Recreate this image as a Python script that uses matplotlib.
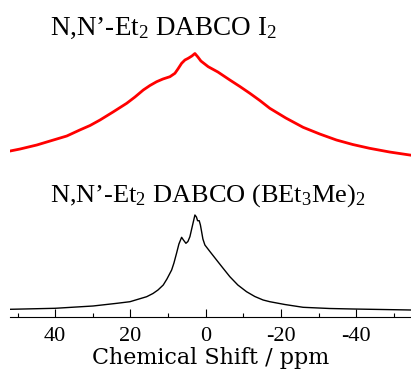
import matplotlib
matplotlib.use("Agg")
import matplotlib.pyplot as plt
from matplotlib.ticker import MultipleLocator

plt.rcParams['axes.unicode_minus'] = False
plt.rcParams['mathtext.fontset'] = 'custom'
plt.rcParams['mathtext.rm'] = 'Liberation Serif'
plt.rcParams['mathtext.it'] = 'Liberation Serif:italic'

# spectra (ppm, intensity a.u.)
ppm_i2 = [51.96, 49.31, 44.88, 41.35, 36.92, 33.47, 30.74, 28.09, 24.64, 21.01, 18.81,
          16.60, 14.83, 13.05, 11.38, 9.52, 8.20, 7.40, 6.42, 5.54, 4.67, 3.69, 2.89,
          2.10, 1.30, -0.64, -3.21, -6.39, -9.05, -11.70, -14.35, -17.0, -21.25,
          -25.84, -30.26, -34.69, -39.02, -43.5, -48.8, -54.5]
int_i2 = [16, 18, 22, 26, 31, 37, 41.5, 47, 55, 63.7, 70,
          77, 81.5, 85.3, 88, 90.3, 93.7, 98, 103.7, 107, 108.7, 111, 113.5,
          110, 106, 100.3, 95, 87, 80.5, 73.7, 66.5, 58.7, 49,
          39.7, 33, 27, 22.5, 18.7, 15, 11.8]

ppm_bet = [51.96, 40.03, 29.95, 23.58, 20.13, 17.48, 15.70, 14.03, 12.70, 11.30, 10.32,
           9.07, 8.46, 7.75, 7.14, 6.42, 5.94, 5.28, 4.75, 4.22, 3.69, 2.89, 2.49, 2.18,
           1.75, 1.43, 1.11, 0.77, 0.24, -1.09, -2.86, -4.54, -6.39, -8.51, -10.82,
           -13.02, -15.22, -17.0, -20.98, -25.84, -32.89, -39.07, -54.5]
int_bet = [7.7, 8.7, 11, 13.7, 15.3, 18.3, 20.3, 23.5, 27, 32, 38,
           47, 54, 64, 73, 79.7, 77, 73.7, 75.5, 80.3, 89, 102, 100, 96.3,
           96.3, 92, 85.3, 78, 72, 65.5, 57, 49, 40.3, 32, 25.3,
           20.5, 17, 15.3, 12.5, 9.7, 8.5, 8, 7]

offset_i2 = 150

label_i2 = "N,N’-Et$_{\\mathrm{2}}$ DABCO I$_{\\mathrm{2}}$"
label_bet = "N,N’-Et$_{\\mathrm{2}}$ DABCO (BEt$_{\\mathrm{3}}$Me)$_{\\mathrm{2}}$"

fig = plt.figure(figsize=(4.11, 3.74), dpi=100)
ax = fig.add_axes([10 / 411, 57 / 374, 1 - 10 / 411, 317 / 374])

ax.plot(ppm_i2, [v + offset_i2 for v in int_i2], color='#ff0000', lw=2.0)
ax.plot(ppm_bet, int_bet, color='black', lw=1.0)

ax.text(41.35, 282, label_i2, family='Liberation Serif', fontsize=19.5, va='baseline')
ax.text(41.35, 115, label_bet, family='Liberation Serif', fontsize=19, va='baseline')

ax.set_xlim(52, -54.5)
ax.set_ylim(0, 317)
for s in ['top', 'left', 'right']:
    ax.spines[s].set_visible(False)
ax.spines['bottom'].set_linewidth(0.8)
ax.set_yticks([])
ax.xaxis.set_major_locator(MultipleLocator(20))
ax.xaxis.set_minor_locator(MultipleLocator(10))
ax.tick_params(axis='x', which='major', direction='in', length=6, width=0.8, pad=7,
               labelsize=16)
ax.tick_params(axis='x', which='minor', direction='in', length=3, width=0.8)
for t in ax.get_xticklabels():
    t.set_family('Liberation Serif')
ax.set_xlabel("Chemical Shift / ppm", family='DejaVu Serif', fontsize=16, labelpad=1)

fig.savefig("out.png", dpi=100)
